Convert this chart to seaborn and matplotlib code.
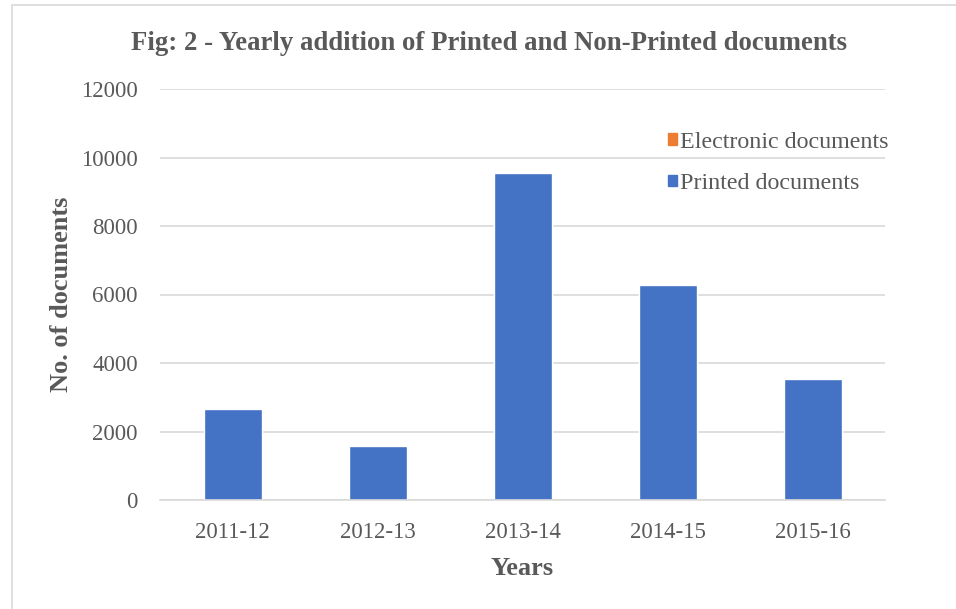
import matplotlib
matplotlib.use("Agg")
import matplotlib.pyplot as plt
import matplotlib.patches as mpatches
import seaborn as sns
import pandas as pd

years = ["2011-12", "2012-13", "2013-14", "2014-15", "2015-16"]
printed = [2665, 1585, 9545, 6275, 3535]
electronic = [25, 20, 30, 35, 25]

df = pd.DataFrame({"Year": years, "Printed": printed, "Electronic": electronic})
df["Total"] = df["Printed"] + df["Electronic"]

sns.set_style("white")
plt.rcParams["font.family"] = ["Liberation Serif", "DejaVu Serif"]

blue = "#4472C4"
orange = "#ED7D31"

fig = plt.figure(figsize=(9.56, 6.09), dpi=100)
ax = fig.add_axes([160 / 956, 1 - 500 / 609, 725 / 956, 411 / 609])

# stacked: total in orange, printed on top in blue
sns.barplot(data=df, x="Year", y="Total", color=orange, width=0.4,
            saturation=1, ax=ax)
sns.barplot(data=df, x="Year", y="Printed", color=blue, width=0.4,
            saturation=1, ax=ax)

ax.set_ylim(0, 12000)
ax.set_yticks(range(0, 12001, 2000))
ax.yaxis.grid(True, color="#D9D9D9", linewidth=1.2)
ax.set_axisbelow(True)
for s in ["top", "right", "left"]:
    ax.spines[s].set_visible(False)
ax.spines["bottom"].set_color("#D9D9D9")
ax.spines["bottom"].set_linewidth(1.2)
ax.tick_params(axis="x", length=0, labelsize=16.5, colors="#595959", pad=16)
ax.tick_params(axis="y", length=0, labelsize=16.5, colors="#595959", pad=16)

ax.set_xlabel("Years", fontsize=19, fontweight="bold", color="#595959", labelpad=10)
ax.set_ylabel("No. of documents", fontsize=19, fontweight="bold", color="#595959", labelpad=6)

fig.suptitle("Fig: 2 - Yearly addition of Printed and Non-Printed documents",
             x=489 / 956, y=1 - 43 / 609, va="center",
             fontsize=19.3, fontweight="bold", color="#595959")

handles = [mpatches.Patch(color=orange, label="Electronic documents"),
           mpatches.Patch(color=blue, label="Printed documents")]
leg = ax.legend(handles=handles, loc="upper left", bbox_to_anchor=(658 / 956, 1 - 122 / 609),
                bbox_transform=fig.transFigure, frameon=False, fontsize=17.3,
                handlelength=0.38, handleheight=0.38, handletextpad=0.15,
                labelspacing=0.85, borderaxespad=0)
for t in leg.get_texts():
    t.set_color("#595959")

# chart border
fig.add_artist(mpatches.Rectangle((12 / 956, -0.05), 1.0, 1 - 5 / 609 + 0.05,
                                  transform=fig.transFigure, fill=False,
                                  edgecolor="#D9D9D9", linewidth=1.2))

fig.savefig("out.png", dpi=100)
